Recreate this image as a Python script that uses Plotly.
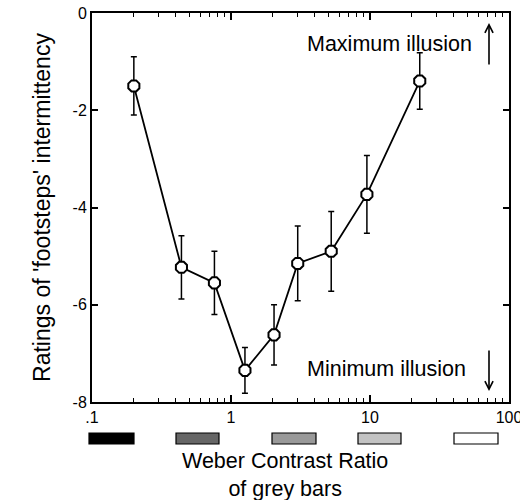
import plotly.graph_objects as go

# Data
contrast = [0.2, 0.44, 0.76, 1.26, 2.04, 3.02, 5.26, 9.5, 22.8]
rating = [-1.50, -5.23, -5.55, -7.35, -6.62, -5.15, -4.90, -3.73, -1.40]
err = [0.60, 0.65, 0.65, 0.47, 0.62, 0.77, 0.82, 0.80, 0.58]

x_tick_vals = [0.1, 1, 10, 100]
x_tick_text = [".1", "1", "10", "100"]
y_tick_vals = [0, -2, -4, -6, -8]
y_tick_text = ["0", "-2", "-4", "-6", "-8"]
minor_vals = [m * d for d in (0.1, 1, 10) for m in range(2, 10)]

bar_colors = ["#000000", "#666666", "#999999", "#c3c3c3", "#ffffff"]

FONT = "Liberation Sans, Arial, sans-serif"

fig = go.Figure()
fig.add_trace(go.Scatter(
    x=contrast, y=rating, mode="lines+markers",
    line=dict(color="black", width=1.8),
    marker=dict(symbol="octagon", size=12, color="white",
                line=dict(color="black", width=2)),
    error_y=dict(type="data", array=err, visible=True,
                 color="black", thickness=1.5, width=3),
    showlegend=False,
))

L, R, T, B = 92, 11, 13, 98
W, H = 520, 500
pw, ph = W - L - R, H - T - B

def px_x(p):
    return (p - L) / pw

def px_y(p):
    return (H - B - p) / ph

# grey bar swatches
bar_px = [(89, 134), (176, 219), (272, 316), (358, 401), (454, 498)]
for (a, b), c in zip(bar_px, bar_colors):
    fig.add_shape(type="rect", xref="paper", yref="paper",
                  x0=px_x(a), x1=px_x(b), y0=px_y(444), y1=px_y(433),
                  fillcolor=c, line=dict(color="black", width=1.2))

ann_font = dict(family=FONT, size=21.5, color="black")
fig.add_annotation(xref="paper", yref="paper", x=px_x(389), y=px_y(44),
                   text="Maximum illusion", showarrow=False, font=ann_font,
                   xanchor="center", yanchor="middle")
fig.add_annotation(xref="paper", yref="paper", x=px_x(386), y=px_y(369),
                   text="Minimum illusion", showarrow=False, font=ann_font,
                   xanchor="center", yanchor="middle")
# arrows
fig.add_annotation(xref="paper", yref="paper", x=px_x(489), y=px_y(23),
                   ax=0, ay=43, axref="pixel", ayref="pixel",
                   showarrow=True, arrowhead=5, arrowsize=1, arrowwidth=1.6,
                   arrowcolor="black", text="")
fig.add_annotation(xref="paper", yref="paper", x=px_x(489), y=px_y(391),
                   ax=0, ay=-42, axref="pixel", ayref="pixel",
                   showarrow=True, arrowhead=5, arrowsize=1, arrowwidth=1.6,
                   arrowcolor="black", text="")
# x title
fig.add_annotation(xref="paper", yref="paper", x=px_x(285), y=px_y(475),
                   text="Weber Contrast Ratio<br>of grey bars", showarrow=False,
                   font=ann_font, xanchor="center", yanchor="middle")

axis_common = dict(showline=True, linecolor="black", linewidth=2, mirror="ticks",
                   ticks="inside", tickcolor="black", tickwidth=1.5,
                   showgrid=False, zeroline=False, automargin=False,
                   tickfont=dict(family=FONT, size=16, color="black"))

fig.update_xaxes(type="log", range=[-1, 2], tickvals=x_tick_vals,
                 ticktext=x_tick_text, ticklen=7, ticklabeloverflow="allow",
                 minor=dict(tickvals=minor_vals, ticks="inside", ticklen=4,
                            tickcolor="black", tickwidth=1.2, showgrid=False),
                 **axis_common)
fig.update_yaxes(range=[-8, 0], tickvals=y_tick_vals, ticktext=y_tick_text,
                 ticklen=6, ticklabeloverflow="allow",
                 title=dict(text="Ratings of 'footsteps' intermittency",
                            font=dict(family=FONT, size=23, color="black"),
                            standoff=16),
                 **axis_common)

fig.update_layout(width=W, height=H, margin=dict(l=L, r=R, t=T, b=B),
                  plot_bgcolor="white", paper_bgcolor="white",
                  font=dict(family=FONT, color="black"))

fig.write_html("out.html", config={"displayModeBar": False},
               post_script="document.body.style.margin='0px';document.body.style.padding='0px';")
